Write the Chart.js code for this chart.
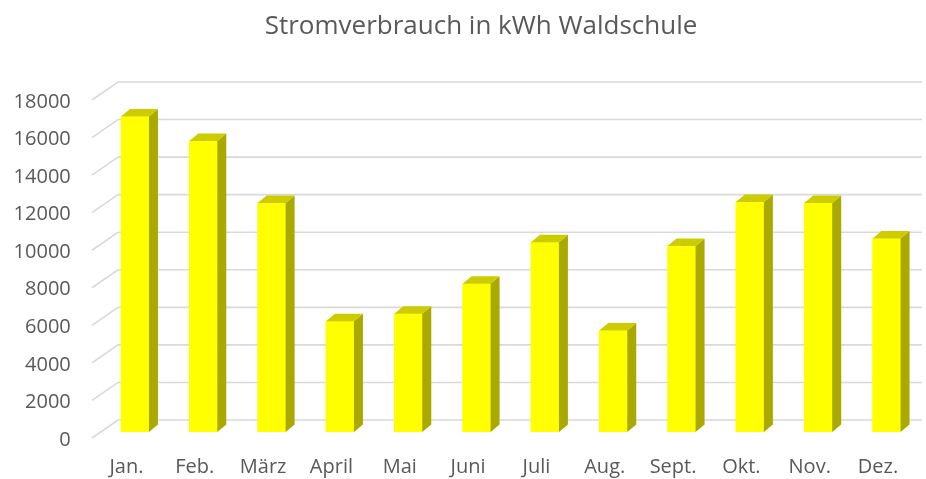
<!DOCTYPE html>
<html>
<head>
<meta charset="utf-8">
<script src="https://cdn.jsdelivr.net/npm/chart.js@4"></script>
<style>
  html, body { margin: 0; padding: 0; background: #fff; }
  #wrap { width: 926px; height: 479px; }
</style>
</head>
<body>
<div id="wrap"><canvas id="myChart"></canvas></div>
<script>
const chartTitle = 'Stromverbrauch in kWh Waldschule'
const months = ['Jan.', 'Feb.', 'März', 'April', 'Mai', 'Juni', 'Juli', 'Aug.', 'Sept.', 'Okt.', 'Nov.', 'Dez.']
const kwh = [16800, 15500, 12200, 5900, 6300, 7900, 10100, 5400, 9900, 12250, 12200, 10300]
const yTicks = [0, 2000, 4000, 6000, 8000, 10000, 12000, 14000, 16000, 18000]

Chart.defaults.color = '#595959'
Chart.defaults.font.family = "'Open Sans', sans-serif"
Chart.defaults.plugins.legend.display = false

// depth of the fake 3d boxes
const depthX = 9
const depthY = -7.5

const walls = {
    id: 'walls',
    beforeDatasetsDraw(chart) {
        const {ctx, scales: {y}} = chart
        ctx.save()
        ctx.strokeStyle = '#d9d9d9'
        ctx.lineWidth = 1.6
        yTicks.forEach(v => {
            const py = y.getPixelForValue(v)
            ctx.beginPath()
            ctx.moveTo(92, py + 6)
            ctx.lineTo(118, py - 12)
            ctx.lineTo(922, py - 12)
            ctx.stroke()
        })
        ctx.restore()
    },
    afterDatasetsDraw(chart) {
        const {ctx} = chart
        const meta = chart.getDatasetMeta(0)
        ctx.save()
        meta.data.forEach(bar => {
            const left = bar.x - bar.width / 2
            const right = bar.x + bar.width / 2
            // side
            ctx.fillStyle = '#a9a900'
            ctx.beginPath()
            ctx.moveTo(right, bar.y)
            ctx.lineTo(right + depthX, bar.y + depthY)
            ctx.lineTo(right + depthX, bar.base + depthY)
            ctx.lineTo(right, bar.base)
            ctx.closePath()
            ctx.fill()
            // top
            ctx.fillStyle = '#cccc00'
            ctx.beginPath()
            ctx.moveTo(left, bar.y)
            ctx.lineTo(left + depthX, bar.y + depthY)
            ctx.lineTo(right + depthX, bar.y + depthY)
            ctx.lineTo(right, bar.y)
            ctx.closePath()
            ctx.fill()
        })
        ctx.restore()
    },
    afterDraw(chart) {
        // title sits a bit right of the canvas centre
        const {ctx} = chart
        ctx.save()
        ctx.fillStyle = '#595959'
        ctx.font = "26px 'Open Sans', sans-serif"
        ctx.textAlign = 'center'
        ctx.textBaseline = 'middle'
        ctx.fillText(chartTitle, 481, 27)
        ctx.restore()
    }
}

new Chart(document.getElementById('myChart'), {
    type: 'bar',
    data: {
        labels: months,
        datasets: [{
            data: kwh,
            backgroundColor: '#ffff00',
            borderWidth: 0,
            barThickness: 28
        }]
    },
    options: {
        responsive: true,
        maintainAspectRatio: false,
        animation: false,
        events: [],
        layout: {
            padding: {left: 0, right: 5.3, top: 94, bottom: 0}
        },
        plugins: {
            tooltip: {enabled: false}
        },
        scales: {
            x: {
                grid: {display: false, drawTicks: false},
                border: {display: false},
                ticks: {font: {size: 20}, labelOffset: -8.5, padding: 23, maxRotation: 0, autoSkip: false},
                afterFit: (scale) => {
                    scale.height = 47
                    scale.paddingLeft = 0
                    scale.paddingRight = 0
                }
            },
            y: {
                min: 0,
                max: 18000,
                afterBuildTicks: (scale) => { scale.ticks = yTicks.map(v => ({value: v})) },
                grid: {display: false, drawTicks: false},
                border: {display: false},
                ticks: {font: {size: 20}, labelOffset: 8, padding: 30, callback: (v) => String(v)},
                afterFit: (scale) => { scale.width = 100.8 }
            }
        }
    },
    plugins: [walls]
});
</script>
</body>
</html>
